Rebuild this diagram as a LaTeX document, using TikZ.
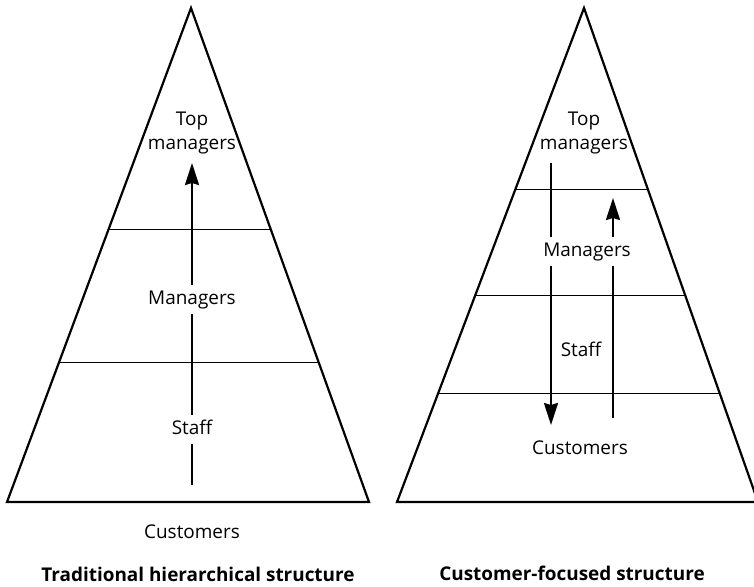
\documentclass[tikz,border=0pt]{standalone}
\usepackage{fontspec}
\setmainfont{Open Sans}
\usetikzlibrary{arrows.meta,calc,positioning}

\tikzset{
  pyramid/.style={line width=2.2bp, line join=miter},
  tierline/.style={line width=1bp},
  flow/.style={->, line width=2.2bp},
  tiertext/.style={font=\fontsize{19}{24}\selectfont, align=center},
  gaptext/.style={tiertext, fill=white, inner sep=5bp, text height=14bp, text depth=5bp},
  captext/.style={font=\fontsize{19}{24}\selectfont\bfseries}
}

\begin{document}
\begin{tikzpicture}[x=1bp, y=-1bp, >={Stealth[length=22bp, width=14bp, inset=2bp]}]

    \useasboundingbox (0,0) rectangle (754,587);

    % ============================================================
    % TRADITIONAL HIERARCHY (LEFT)
    % ============================================================
    \coordinate (lApex) at (191,8);
    \coordinate (lLeft) at (7,502);
    \coordinate (lRight) at (369,502);
    \draw[pyramid] (lApex) -- (lLeft) -- (lRight) -- cycle;
    \foreach \t in {0.449,0.717}
        \draw[tierline] ($(lApex)!\t!(lLeft)$) -- ($(lApex)!\t!(lRight)$);

    % authority flows upwards
    \coordinate (lTail) at (192,485);
    \coordinate (lTip) at (192,163);
    \draw[flow] (lTail) -- (lTip);

    \node[tiertext] (lTopMgr) at (192,133) {Top\\managers};
    \node[gaptext, anchor=base] (lMgr) at (192,304) {Managers};
    \node[gaptext, anchor=base] (lStaff) at (192,434) {Staff};
    \node[tiertext, anchor=base] (lCust) at (192,538) {Customers};
    \node[captext, anchor=base] (lCap) at (198,581)
        {Traditional hierarchical structure};

    % ============================================================
    % CUSTOMER-FOCUSED (RIGHT)
    % ============================================================
    \coordinate (rApex) at (584,8);
    \coordinate (rLeft) at (397,502);
    \coordinate (rRight) at (758,502);
    \draw[pyramid] (rApex) -- (rLeft) -- (rRight) -- cycle;
    \foreach \t in {0.368,0.583,0.781}
        \draw[tierline] ($(rApex)!\t!(rLeft)$) -- ($(rApex)!\t!(rRight)$);

    % service down, feedback up
    \coordinate (rDownTail) at (551,163);
    \coordinate (rDownTip) at (551,425);
    \coordinate (rUpTail) at (613,418);
    \coordinate (rUpTip) at (613,198);
    \draw[flow] (rDownTail) -- (rDownTip);
    \draw[flow] (rUpTail) -- (rUpTip);

    \node[tiertext] (rTopMgr) at (584,133) {Top\\managers};
    \node[gaptext, anchor=base] (rMgr) at (587,256) {Managers};
    \node[tiertext, anchor=base] (rStaff) at (581,356) {Staff};
    \node[tiertext, anchor=base] (rCust) at (580,454) {Customers};
    \node[captext, anchor=base] (rCap) at (572,580)
        {Customer-focused structure};

\end{tikzpicture}
\end{document}
